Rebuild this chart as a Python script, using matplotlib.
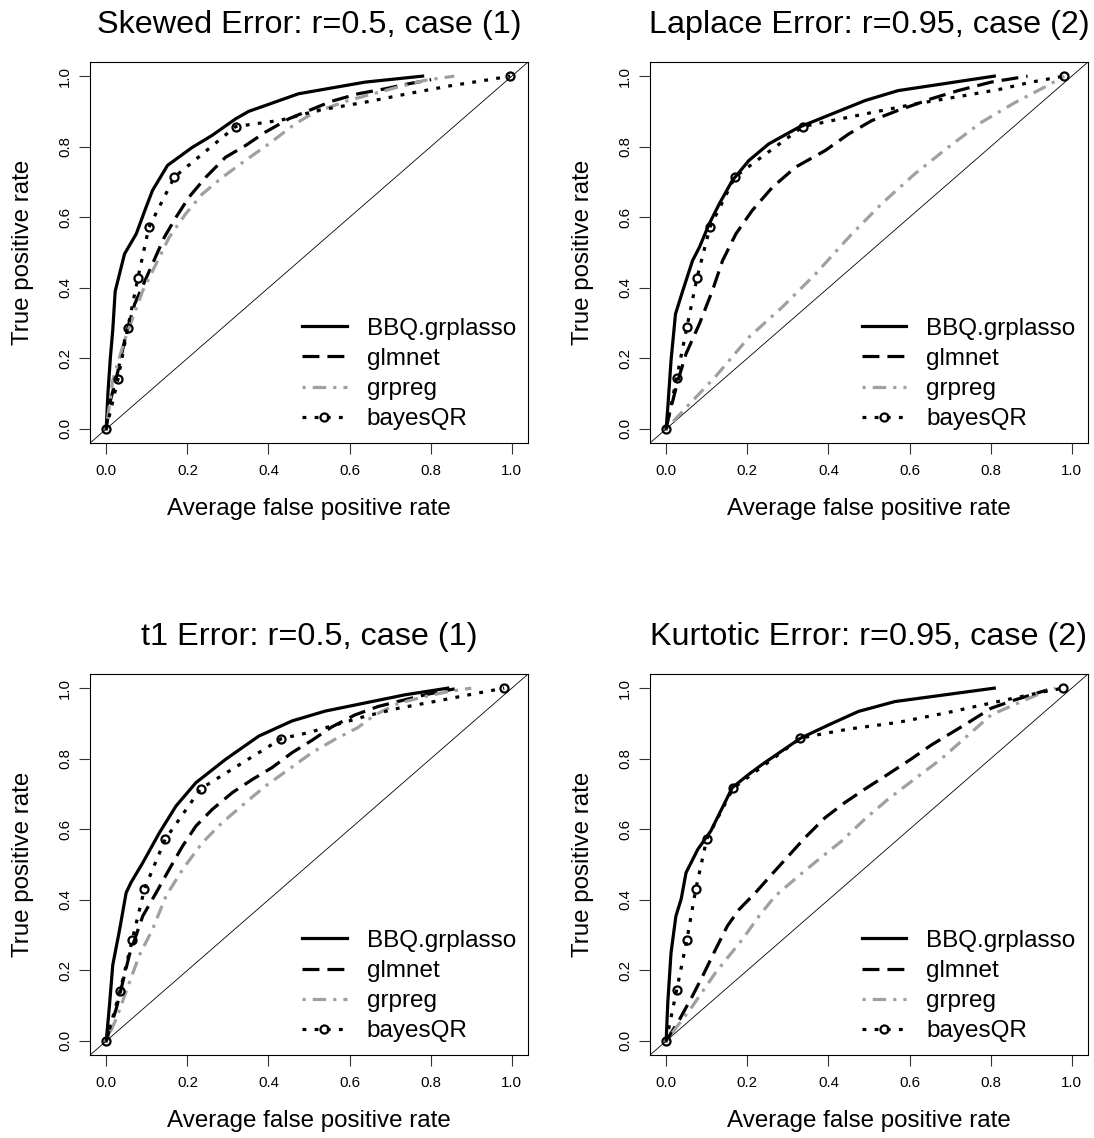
import matplotlib.pyplot as plt
from matplotlib.lines import Line2D

plt.rcParams['font.family'] = ['Liberation Sans', 'DejaVu Sans']

methods = ['BBQ.grplasso', 'glmnet', 'grpreg', 'bayesQR']
titles = ['Skewed Error: r=0.5, case (1)', 'Laplace Error: r=0.95, case (2)',
          't1 Error: r=0.5, case (1)', 'Kurtotic Error: r=0.95, case (2)']
ticks = [0.0, 0.2, 0.4, 0.6, 0.8, 1.0]

# Skewed error, r=0.5
skew_bbq_fpr = [0, 0.004, 0.010, 0.016, 0.022, 0.045, 0.074, 0.098, 0.114, 0.151, 0.212, 0.261, 0.319, 0.351, 0.474, 0.638, 0.78]
skew_bbq_tpr = [0, 0.10, 0.20, 0.28, 0.39, 0.496, 0.553, 0.628, 0.676, 0.747, 0.798, 0.832, 0.879, 0.90, 0.95, 0.983, 1.0]
skew_glm_fpr = [0, 0.008, 0.029, 0.049, 0.07, 0.114, 0.143, 0.172, 0.204, 0.245, 0.294, 0.343, 0.392, 0.45, 0.49, 0.556, 0.621, 0.687, 0.744, 0.801]
skew_glm_tpr = [0, 0.07, 0.165, 0.27, 0.354, 0.468, 0.543, 0.6, 0.657, 0.713, 0.77, 0.803, 0.841, 0.879, 0.898, 0.929, 0.95, 0.964, 0.978, 0.99]
skew_grp_fpr = [0, 0.016, 0.045, 0.09, 0.123, 0.155, 0.196, 0.237, 0.286, 0.343, 0.401, 0.466, 0.515, 0.597, 0.719, 0.785, 0.858]
skew_grp_tpr = [0, 0.137, 0.251, 0.392, 0.468, 0.543, 0.61, 0.666, 0.713, 0.761, 0.808, 0.865, 0.898, 0.931, 0.969, 0.988, 1.0]
skew_bay_fpr = [0, 0.029, 0.053, 0.078, 0.105, 0.168, 0.319, 0.43, 0.523, 0.638, 0.752, 0.85, 0.944, 0.996]
skew_bay_tpr = [0, 0.142, 0.286, 0.428, 0.571, 0.714, 0.857, 0.875, 0.903, 0.926, 0.952, 0.973, 0.99, 1.0]
skew_bay_marks = [0, 1, 2, 3, 4, 5, 6, 13]

# Laplace error, r=0.95
lap_bbq_fpr = [0, 0.004, 0.012, 0.023, 0.041, 0.065, 0.082, 0.106, 0.131, 0.163, 0.204, 0.253, 0.327, 0.409, 0.491, 0.572, 0.809]
lap_bbq_tpr = [0, 0.061, 0.194, 0.326, 0.392, 0.477, 0.515, 0.581, 0.638, 0.704, 0.761, 0.808, 0.855, 0.893, 0.931, 0.959, 1.0]
lap_glm_fpr = [0, 0.008, 0.029, 0.049, 0.082, 0.114, 0.139, 0.172, 0.212, 0.262, 0.319, 0.392, 0.45, 0.507, 0.572, 0.654, 0.72, 0.801, 0.891]
lap_glm_tpr = [0, 0.043, 0.137, 0.213, 0.298, 0.392, 0.477, 0.553, 0.619, 0.685, 0.742, 0.789, 0.836, 0.874, 0.903, 0.936, 0.959, 0.983, 1.0]
lap_grp_fpr = [0, 0.057, 0.123, 0.204, 0.286, 0.368, 0.45, 0.531, 0.613, 0.695, 0.777, 0.86, 0.94, 0.981]
lap_grp_tpr = [0, 0.07, 0.15, 0.26, 0.345, 0.439, 0.543, 0.638, 0.723, 0.798, 0.869, 0.925, 0.973, 1.0]
lap_bay_fpr = [0, 0.026, 0.051, 0.076, 0.108, 0.17, 0.337, 0.409, 0.491, 0.613, 0.736, 0.82, 0.9, 0.981]
lap_bay_tpr = [0, 0.145, 0.288, 0.428, 0.572, 0.715, 0.857, 0.874, 0.893, 0.921, 0.945, 0.962, 0.983, 1.0]
lap_bay_marks = [0, 1, 2, 3, 4, 5, 6, 13]

# t1 error, r=0.5
t1_bbq_fpr = [0, 0.008, 0.016, 0.033, 0.049, 0.061, 0.09, 0.131, 0.172, 0.221, 0.294, 0.376, 0.458, 0.54, 0.638, 0.736, 0.842]
t1_bbq_tpr = [0, 0.102, 0.215, 0.316, 0.42, 0.449, 0.505, 0.59, 0.666, 0.732, 0.798, 0.864, 0.907, 0.935, 0.958, 0.981, 1.0]
t1_glm_fpr = [0, 0.025, 0.037, 0.057, 0.09, 0.123, 0.155, 0.188, 0.221, 0.261, 0.311, 0.36, 0.409, 0.458, 0.507, 0.556, 0.613, 0.67, 0.736, 0.793, 0.859]
t1_glm_tpr = [0, 0.093, 0.149, 0.244, 0.354, 0.42, 0.486, 0.552, 0.609, 0.656, 0.704, 0.741, 0.775, 0.817, 0.852, 0.89, 0.924, 0.948, 0.967, 0.983, 0.998]
t1_grp_fpr = [0, 0.025, 0.049, 0.082, 0.114, 0.147, 0.188, 0.237, 0.286, 0.343, 0.392, 0.45, 0.507, 0.564, 0.62, 0.662, 0.72, 0.785, 0.842, 0.9]
t1_grp_tpr = [0, 0.064, 0.14, 0.244, 0.316, 0.41, 0.486, 0.562, 0.619, 0.675, 0.722, 0.77, 0.817, 0.855, 0.888, 0.924, 0.957, 0.976, 0.99, 1.0]
t1_bay_fpr = [0, 0.034, 0.064, 0.094, 0.145, 0.233, 0.432, 0.499, 0.638, 0.72, 0.818, 0.916, 0.981]
t1_bay_tpr = [0, 0.142, 0.286, 0.43, 0.571, 0.715, 0.857, 0.874, 0.92, 0.943, 0.964, 0.986, 1.0]
t1_bay_marks = [0, 1, 2, 3, 4, 5, 6, 12]

# Kurtotic error, r=0.95
kurt_bbq_fpr = [0, 0.004, 0.012, 0.024, 0.037, 0.049, 0.078, 0.11, 0.163, 0.204, 0.237, 0.331, 0.401, 0.474, 0.564, 0.809]
kurt_bbq_tpr = [0, 0.109, 0.25, 0.354, 0.402, 0.477, 0.543, 0.595, 0.718, 0.756, 0.784, 0.858, 0.896, 0.934, 0.962, 1.0]
kurt_glm_fpr = [0, 0.033, 0.065, 0.09, 0.122, 0.151, 0.18, 0.22, 0.261, 0.302, 0.343, 0.392, 0.441, 0.49, 0.547, 0.604, 0.654, 0.736, 0.801, 0.858, 0.94]
kurt_glm_tpr = [0, 0.061, 0.128, 0.184, 0.26, 0.326, 0.373, 0.42, 0.473, 0.525, 0.577, 0.633, 0.676, 0.714, 0.756, 0.799, 0.839, 0.896, 0.943, 0.966, 0.995]
kurt_grp_fpr = [0, 0.065, 0.122, 0.188, 0.229, 0.269, 0.327, 0.367, 0.433, 0.49, 0.547, 0.612, 0.678, 0.736, 0.801, 0.858, 0.932, 0.96]
kurt_grp_tpr = [0, 0.099, 0.194, 0.288, 0.354, 0.411, 0.468, 0.506, 0.567, 0.629, 0.685, 0.742, 0.799, 0.858, 0.924, 0.953, 0.99, 1.0]
kurt_bay_fpr = [0, 0.026, 0.051, 0.073, 0.1, 0.165, 0.331, 0.36, 0.45, 0.572, 0.695, 0.818, 0.924, 0.978]
kurt_bay_tpr = [0, 0.145, 0.286, 0.43, 0.572, 0.716, 0.858, 0.865, 0.884, 0.903, 0.931, 0.962, 0.988, 1.0]
kurt_bay_marks = [0, 1, 2, 3, 4, 5, 6, 13]

panels = [
    (skew_bbq_fpr, skew_bbq_tpr, skew_glm_fpr, skew_glm_tpr, skew_grp_fpr, skew_grp_tpr, skew_bay_fpr, skew_bay_tpr, skew_bay_marks),
    (lap_bbq_fpr, lap_bbq_tpr, lap_glm_fpr, lap_glm_tpr, lap_grp_fpr, lap_grp_tpr, lap_bay_fpr, lap_bay_tpr, lap_bay_marks),
    (t1_bbq_fpr, t1_bbq_tpr, t1_glm_fpr, t1_glm_tpr, t1_grp_fpr, t1_grp_tpr, t1_bay_fpr, t1_bay_tpr, t1_bay_marks),
    (kurt_bbq_fpr, kurt_bbq_tpr, kurt_glm_fpr, kurt_glm_tpr, kurt_grp_fpr, kurt_grp_tpr, kurt_bay_fpr, kurt_bay_tpr, kurt_bay_marks),
]

LW = 2.3
GREY = '#a0a0a0'
styles = [
    dict(color='black', lw=LW, ls='-'),
    dict(color='black', lw=LW, dashes=(5.3, 2.5)),
    dict(color=GREY, lw=LW, dashes=(1.0, 2.2, 4.2, 2.2)),
    dict(color='black', lw=LW, dashes=(1.2, 2.6)),
]
mark_style = dict(marker='o', ms=5.8, mfc='none', mec='black', mew=1.6)

fig = plt.figure(figsize=(10.94, 11.38), dpi=100)
lefts = [0.0823, 0.5941, 0.0823, 0.5941]
bottoms = [0.6107, 0.6107, 0.0729, 0.0729]

for i, p in enumerate(panels):
    ax = fig.add_axes([lefts[i], bottoms[i], 0.4004, 0.3348])
    bx, by, gx, gy, rx, ry, qx, qy, qm = p
    ax.axline((0, 0), slope=1, color='black', lw=0.6)
    ax.plot(bx, by, **styles[0])
    ax.plot(gx, gy, **styles[1])
    ax.plot(rx, ry, **styles[2])
    ax.plot(qx, qy, **styles[3])
    ax.plot([qx[k] for k in qm], [qy[k] for k in qm], ls='none', **mark_style)

    ax.set_xlim(-0.04, 1.04)
    ax.set_ylim(-0.04, 1.04)
    ax.set_xticks(ticks)
    ax.set_yticks(ticks)
    ax.set_xticklabels([f'{t:.1f}' for t in ticks])
    ax.set_yticklabels([f'{t:.1f}' for t in ticks], rotation=90, va='center')
    ax.tick_params(length=8, width=0.8, labelsize=10.8, color='#333333')
    ax.tick_params(axis='x', pad=7)
    ax.tick_params(axis='y', pad=5)
    for s in ax.spines.values():
        s.set_linewidth(0.8)

    ax.set_title(titles[i], fontsize=23.3, pad=21)
    ax.set_xlabel('Average false positive rate', fontsize=17.4)
    ax.set_ylabel('True positive rate', fontsize=17.4)
    ax.xaxis.set_label_coords(0.5, -0.145)
    ax.yaxis.set_label_coords(-0.128, 0.5)

    handles = []
    for j in range(4):
        if j == 3:
            handles.append(Line2D([], [], **styles[j], **mark_style))
        else:
            handles.append(Line2D([], [], **styles[j]))
    ax.legend(handles, methods, loc='lower left', bbox_to_anchor=(0.483, 0.034),
              frameon=False, fontsize=17.5, handlelength=1.85, handletextpad=0.82,
              labelspacing=0.33, borderpad=0, borderaxespad=0, numpoints=1)

fig.savefig('out.png', dpi=100)
